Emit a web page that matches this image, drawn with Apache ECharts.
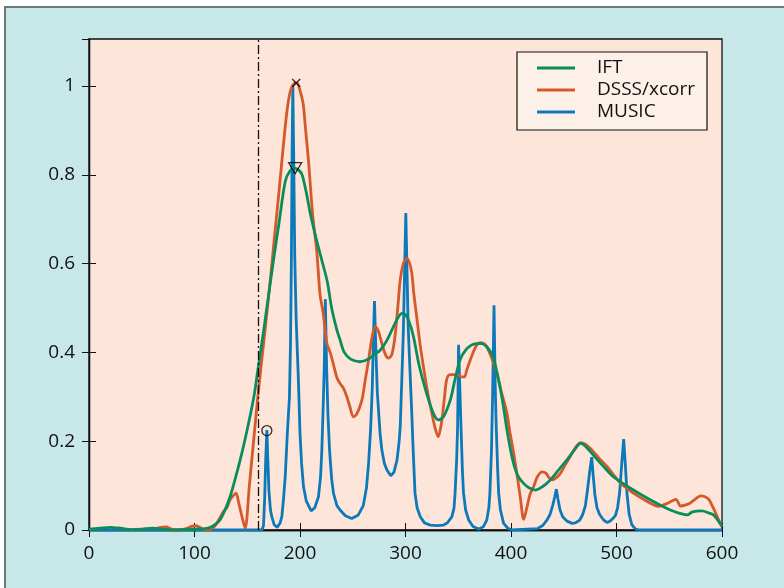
<!DOCTYPE html>
<html>
<head>
<meta charset="utf-8">
<script src="https://cdn.jsdelivr.net/npm/echarts@6/dist/echarts.min.js"></script>
<style>
  html, body { margin: 0; padding: 0; background: #fff; }
  #chart-container { width: 784px; height: 588px; }
</style>
</head>
<body>
<div id="chart-container"></div>
<script>
// tick labels
const xTicks = [0, 100, 200, 300, 400, 500, 600];
const yTicks = [0, 0.2, 0.4, 0.6, 0.8, 1];

const seriesNames = ['IFT', 'DSSS/xcorr', 'MUSIC'];

// IFT (green) [x, y]
const iftPoints = [
  [0, 0.002], [10, 0.004], [20, 0.006], [30, 0.004], [40, 0.001], [50, 0.002], [60, 0.004],
  [70, 0.002], [80, 0.0], [90, 0.001], [100, 0.002], [110, 0.003], [115, 0.006], [120, 0.013],
  [124, 0.022], [128, 0.04], [133.7, 0.075], [138, 0.11], [143, 0.155], [148, 0.205],
  [153, 0.26], [157, 0.31], [160, 0.36], [165, 0.44], [170, 0.525], [175, 0.61],
  [180, 0.69], [186, 0.785], [190, 0.807], [195, 0.815], [199, 0.81], [202, 0.8], [206, 0.76],
  [210, 0.71], [216, 0.65], [222, 0.596], [226, 0.558], [230, 0.5], [235, 0.45], [238, 0.428],
  [242, 0.4], [248, 0.385], [257, 0.379], [265, 0.385], [270, 0.395], [276, 0.405],
  [283, 0.43], [290, 0.465], [296.6, 0.488], [300, 0.485], [304, 0.465], [307.6, 0.435],
  [313, 0.37], [320, 0.308], [326, 0.265], [331, 0.248], [336, 0.255], [342.5, 0.293],
  [347, 0.34], [352, 0.385], [357, 0.405], [362, 0.416], [367, 0.42], [372.5, 0.42],
  [378, 0.41], [383, 0.39], [388, 0.34], [392, 0.29], [396, 0.228], [400, 0.175],
  [403, 0.145], [407, 0.12], [412, 0.105], [417, 0.095], [423, 0.09], [430, 0.098],
  [437, 0.112], [445, 0.135], [453, 0.158], [460, 0.18], [466, 0.195], [470, 0.19],
  [478, 0.169], [487, 0.145], [497, 0.12], [506, 0.105], [516, 0.09], [526, 0.076],
  [535, 0.064], [543, 0.054], [551, 0.045], [559, 0.038], [567, 0.034], [572, 0.041],
  [581, 0.043], [588, 0.038], [592, 0.034], [596, 0.022], [600, 0.008]
];

// DSSS/xcorr (orange) [x, y]
const dsssPoints = [
  [63, 0.003], [68, 0.006], [73, 0.007], [78, 0.002], [85, 0.0], [92, 0.003], [97, 0.008],
  [101, 0.01], [105, 0.006], [110, 0.0], [114, 0.001], [118, 0.006], [121, 0.015],
  [124, 0.027], [127, 0.04], [130.6, 0.05], [133.7, 0.068], [137, 0.078], [139.4, 0.083],
  [142, 0.06], [145, 0.03], [148, 0.004], [152, 0.1], [156, 0.2], [160, 0.3], [165, 0.41],
  [170, 0.52], [175, 0.64], [180, 0.76], [185, 0.885], [188, 0.95], [191, 0.99], [194, 1.005],
  [197, 1.007], [200, 0.99], [203, 0.96], [205, 0.91], [208, 0.833], [212, 0.71], [216, 0.625],
  [219, 0.53], [222, 0.488], [225.5, 0.42], [228.6, 0.4], [232, 0.37], [235, 0.343],
  [238, 0.33], [241, 0.32], [244.4, 0.3], [247, 0.28], [250.7, 0.255], [254, 0.262],
  [258.7, 0.293], [262, 0.34], [265, 0.383], [268, 0.43], [271.3, 0.458], [274, 0.45],
  [277.6, 0.42], [281, 0.395], [284, 0.387], [287, 0.395], [290, 0.435], [293, 0.51],
  [295, 0.563], [298, 0.6], [301.4, 0.612], [304, 0.6], [306, 0.578], [308, 0.53],
  [311, 0.473], [314, 0.415], [317, 0.368], [321, 0.31], [325, 0.263], [328, 0.23],
  [331, 0.21], [334, 0.24], [337, 0.3], [339, 0.338], [342, 0.35], [346, 0.35], [350, 0.35],
  [353, 0.345], [356, 0.345], [358, 0.36], [361.4, 0.383], [365, 0.405], [368, 0.418],
  [371, 0.422], [374, 0.42], [377, 0.413], [382, 0.385], [386.7, 0.353], [391, 0.31],
  [396, 0.265], [399, 0.22], [402.5, 0.173], [406, 0.12], [409, 0.07], [412, 0.024],
  [415, 0.05], [418, 0.08], [421.5, 0.098], [425, 0.12], [429.4, 0.131], [433, 0.128],
  [436, 0.118], [439, 0.113], [443, 0.118], [447, 0.128], [451, 0.145], [456, 0.165],
  [461, 0.185], [466, 0.197], [470, 0.194], [475, 0.184], [483, 0.163], [491, 0.143],
  [498, 0.122], [504, 0.105], [510, 0.094], [516, 0.083], [522, 0.074], [529, 0.064],
  [535, 0.057], [540, 0.053], [544, 0.056], [548, 0.06], [553, 0.066], [556.5, 0.069],
  [558.5, 0.062], [560.6, 0.054], [565, 0.056], [570, 0.061], [575, 0.07], [580, 0.077],
  [584, 0.075], [587.5, 0.069], [591, 0.053], [594, 0.038], [597, 0.022], [600, 0.008]
];

// MUSIC (blue) [x, y]
const musicPoints = [
  [0, 0], [160, 0], [164, 0], [165.4, 0.01], [166.5, 0.07], [167.5, 0.16], [168.6, 0.225],
  [169.5, 0.16], [170.5, 0.09], [172, 0.045], [173.3, 0.03], [175.5, 0.012], [178.5, 0.006],
  [181, 0.015], [182.8, 0.03], [184.3, 0.068], [186, 0.12], [188, 0.218], [190, 0.3],
  [191, 0.42], [191.8, 0.6], [192.5, 0.85], [193.2, 1.0], [194, 0.85], [195, 0.62],
  [196.3, 0.48], [197.5, 0.4], [198.6, 0.33], [200, 0.218], [201.5, 0.15], [203.3, 0.098],
  [206, 0.065], [210.6, 0.043], [214, 0.05], [217.5, 0.075], [219.5, 0.12], [220.7, 0.18],
  [222, 0.28], [223, 0.368], [224, 0.52], [225.2, 0.368], [226.5, 0.26], [228, 0.18],
  [230, 0.115], [231.7, 0.083], [235, 0.055], [238, 0.045], [243, 0.032], [249, 0.026],
  [255, 0.033], [260, 0.055], [263, 0.095], [265, 0.15], [267, 0.23], [268.5, 0.32],
  [269.7, 0.443], [270.6, 0.516], [272, 0.4], [273.3, 0.31], [274.4, 0.27], [276, 0.215],
  [277.6, 0.18], [280, 0.15], [282.4, 0.135], [286, 0.122], [289, 0.13], [292, 0.158],
  [294, 0.2], [295, 0.233], [296.6, 0.345], [298, 0.45], [299.3, 0.6], [300.3, 0.714],
  [301.3, 0.6], [302.5, 0.46], [304.5, 0.345], [306, 0.26], [307, 0.196], [309, 0.083],
  [311, 0.05], [314, 0.03], [318, 0.016], [323.5, 0.011], [330, 0.01], [336, 0.011],
  [340, 0.017], [344, 0.03], [346, 0.05], [347, 0.083], [348.5, 0.16], [349.4, 0.233],
  [350.3, 0.417], [351.5, 0.32], [352.6, 0.233], [354, 0.13], [355, 0.083], [357, 0.045],
  [360, 0.022], [364, 0.008], [369.5, 0.002], [374, 0.008], [377, 0.022], [379, 0.05],
  [380, 0.083], [381.5, 0.18], [382.6, 0.308], [383.9, 0.506], [385, 0.33], [386, 0.233],
  [387.3, 0.14], [388.3, 0.083], [390, 0.045], [393, 0.015], [397, 0.004], [401, 0],
  [425, 0.003], [430, 0.01], [434, 0.022], [437, 0.035], [439.5, 0.055], [441.5, 0.075],
  [443, 0.092], [444.5, 0.07], [446.5, 0.045], [449, 0.03], [453, 0.02], [458, 0.015],
  [461, 0.016], [465, 0.022], [468, 0.035], [470.5, 0.055], [472.5, 0.09], [474.5, 0.13],
  [476.5, 0.164], [478, 0.12], [479.5, 0.08], [481.5, 0.05], [484, 0.035], [488, 0.022],
  [491, 0.017], [494, 0.02], [497, 0.027], [499, 0.033], [501, 0.05], [503, 0.085],
  [505, 0.15], [506.8, 0.205], [508.3, 0.15], [510, 0.08], [512, 0.035], [514.5, 0.012],
  [518, 0.002], [522, 0], [600, 0]
];

// highlighted points: circle on MUSIC, triangle on IFT, cross on DSSS
const markerX = [168.6, 195.4, 196.4];
const markerY = [0.224, 0.815, 1.007];
const cutoffX = 160;

const colors = ['#0a8d5c', '#d4592b', '#0b79ba'];
const font = 'Open Sans';

const dom = document.getElementById('chart-container');
const myChart = echarts.init(dom, null, { renderer: 'canvas' });

const markerSymbols = ['circle', 'triangle', 'path://M0,0L10,10M10,0L0,10'];
const markerSizes = [10, [13, 11], 8];
const markerRotate = [0, 180, 0];
const markerData = markerX.map((x, i) => ({
  value: [x, markerY[i]],
  symbol: markerSymbols[i],
  symbolSize: markerSizes[i],
  symbolRotate: markerRotate[i]
}));

const lineSeries = (name, data, color, z) => ({
  name,
  type: 'line',
  data,
  z,
  smooth: 0.3,
  symbol: 'none',
  showSymbol: false,
  clip: true,
  lineStyle: { color, width: 2.8 },
  itemStyle: { color }
});

const music = lineSeries('MUSIC', musicPoints, colors[2], 2);
music.smooth = false;
music.markLine = {
  silent: true,
  symbol: 'none',
  label: { show: false },
  lineStyle: { color: '#111', width: 1.3, type: [9, 3, 2, 3] },
  data: [{ xAxis: cutoffX }]
};

const option = {
  backgroundColor: '#c8e7e9',
  animation: false,
  textStyle: { fontFamily: font },
  graphic: [
    { type: 'rect', shape: { x: 0, y: 0, width: 784, height: 6 }, style: { fill: '#fff' } },
    { type: 'rect', shape: { x: 0, y: 0, width: 4, height: 588 }, style: { fill: '#fff' } },
    { type: 'line', shape: { x1: 4, y1: 7, x2: 784, y2: 7 }, style: { stroke: '#6f7877', lineWidth: 2 } },
    { type: 'line', shape: { x1: 5, y1: 6, x2: 5, y2: 588 }, style: { stroke: '#6f7877', lineWidth: 2 } }
  ],
  grid: {
    left: 89, right: 62, top: 39, bottom: 58,
    show: true,
    backgroundColor: '#fde5d9',
    borderColor: '#111',
    borderWidth: 1.3
  },
  legend: {
    data: seriesNames,
    orient: 'vertical',
    left: 517,
    top: 52,
    padding: [6, 12, 8, 20],
    backgroundColor: '#fdf0e8',
    borderColor: '#111',
    borderWidth: 1.2,
    icon: 'rect',
    itemWidth: 38,
    itemHeight: 3,
    itemGap: 2,
    textStyle: { fontFamily: font, fontSize: 19, lineHeight: 20, color: '#111', padding: [0, 0, 0, 17] }
  },
  xAxis: [
    {
      type: 'value', min: 0, max: 600, interval: 100, position: 'bottom',
      axisLine: { show: true, lineStyle: { color: '#111', width: 1.3 } },
      axisTick: { inside: true, length: 7, lineStyle: { color: '#111' } },
      axisLabel: { margin: 14, fontFamily: font, fontSize: 19, color: '#111',
        formatter: (v) => (xTicks.includes(v) ? String(v) : '') },
      splitLine: { show: false }
    },
    {
      type: 'value', min: 0, max: 600, interval: 100, position: 'top',
      axisLine: { show: true, lineStyle: { color: '#111', width: 1.3 } },
      axisTick: { inside: true, length: 7, lineStyle: { color: '#111' } },
      axisLabel: { show: false },
      splitLine: { show: false }
    }
  ],
  yAxis: [
    {
      type: 'value', min: 0, max: 1.106, interval: 0.2, position: 'left',
      axisLine: { show: true, lineStyle: { color: '#111', width: 1.3 } },
      axisTick: { inside: true, length: 7, lineStyle: { color: '#111' } },
      axisLabel: { margin: 14, fontFamily: font, fontSize: 19, color: '#111', showMaxLabel: false,
        formatter: (v) => {
          const t = yTicks.find((k) => Math.abs(k - v) < 1e-6);
          return t === undefined ? '' : String(t);
        } },
      splitLine: { show: false }
    },
    {
      type: 'value', min: 0, max: 1.106, interval: 0.2, position: 'right',
      axisLine: { show: true, lineStyle: { color: '#111', width: 1.3 } },
      axisTick: { inside: true, length: 7, lineStyle: { color: '#111' } },
      axisLabel: { show: false },
      splitLine: { show: false }
    }
  ],
  series: [
    music,
    lineSeries('DSSS/xcorr', dsssPoints, colors[1], 3),
    lineSeries('IFT', iftPoints, colors[0], 4),
    {
      type: 'scatter',
      z: 6,
      data: markerData,
      itemStyle: { color: 'rgba(0,0,0,0)', borderColor: '#000', borderWidth: 1.3 },
      silent: true
    }
  ]
};

myChart.setOption(option);
window.addEventListener('resize', myChart.resize);
</script>
</body>
</html>
